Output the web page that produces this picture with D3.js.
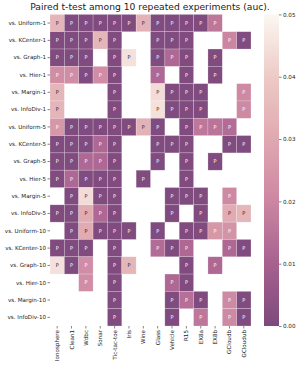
<!DOCTYPE html>
<html>
<head>
<meta charset="utf-8">
<script src="https://cdn.jsdelivr.net/npm/d3@7"></script>
<style>
  body { margin: 0; background: #fff; }
  text { font-family: "DejaVu Sans", sans-serif; }
</style>
</head>
<body>
<div id="chart-area"></div>
<script>
// heatmap of p-values, null = not significant (blank)

let rows = ["vs. Uniform-1", "vs. KCenter-1", "vs. Graph-1", "vs. Hier-1", "vs. Margin-1", "vs. InfoDiv-1",
            "vs. Uniform-5", "vs. KCenter-5", "vs. Graph-5", "vs. Hier-5", "vs. Margin-5", "vs. InfoDiv-5",
            "vs. Uniform-10", "vs. KCenter-10", "vs. Graph-10", "vs. Hier-10", "vs. Margin-10", "vs. InfoDiv-10"]

let cols = ["Ionosphere", "Clean1", "Wdbc", "Sonar", "Tic-tac-toe", "Iris", "Wine", "Glass",
            "Vehicle", "R15", "EX8a", "EX8b", "GCloudb", "GCloudub"]

let pvals = [
  [0.034, 0.001, 0.001, 0.001, 0.001, 0.001, 0.033, 0.001, 0.001, 0.001, 0.001, 0.016, null, null],
  [0.001, 0.001, 0.001, 0.034, 0.001, null, null, 0.001, 0.001, 0.001, null, null, 0.020, 0.001],
  [0.001, 0.001, 0.001, null, 0.001, 0.045, null, 0.001, 0.012, 0.001, null, 0.001, null, null],
  [0.022, 0.022, 0.001, 0.022, 0.001, null, null, 0.012, null, 0.001, null, 0.001, null, null],
  [0.034, null, null, null, 0.001, null, null, 0.044, 0.001, 0.001, 0.001, null, null, 0.021],
  [0.034, null, null, null, 0.001, null, null, 0.045, 0.001, 0.001, 0.001, null, null, 0.021],
  [0.025, 0.001, 0.001, 0.001, 0.001, 0.001, 0.033, 0.001, null, 0.001, 0.016, 0.015, 0.013, null],
  [0.001, 0.001, 0.001, 0.012, 0.001, null, null, 0.001, 0.001, 0.001, null, null, 0.001, 0.001],
  [0.001, 0.001, 0.012, 0.012, 0.001, null, null, 0.001, null, 0.001, null, 0.001, null, null],
  [0.001, 0.012, 0.001, 0.001, 0.001, null, 0.001, null, null, 0.001, null, null, null, null],
  [null, 0.001, 0.044, 0.001, 0.001, null, null, null, 0.001, 0.001, 0.001, null, 0.021, null],
  [0.001, 0.001, 0.031, 0.012, 0.001, null, null, null, 0.001, null, 0.001, null, 0.031, 0.034],
  [null, 0.001, 0.031, 0.001, 0.001, 0.001, null, 0.001, null, 0.001, 0.001, 0.025, 0.024, null],
  [0.001, 0.001, 0.001, null, 0.001, null, null, 0.013, 0.001, 0.012, null, null, 0.012, 0.001],
  [0.045, 0.001, 0.022, null, 0.001, 0.034, null, null, null, 0.001, null, 0.012, null, null],
  [null, null, 0.022, null, 0.001, null, null, null, 0.012, 0.001, null, null, null, null],
  [null, null, null, null, 0.001, null, null, null, 0.001, 0.014, 0.001, null, 0.021, 0.001],
  [null, null, null, null, 0.001, null, null, null, 0.001, null, 0.016, null, 0.021, 0.001]
]

let cbarTicks = [0, 0.01, 0.02, 0.03, 0.04, 0.05]
let title = "Paired t-test among 10 repeated experiments (auc)."

let svg = d3.select("#chart-area").append("svg")
            .attr("width", 300)
            .attr("height", 366)

let mLeft = 50, mRight = 251, mTop = 14.4, mBottom = 326

let x = d3.scaleBand().domain(cols).range([mLeft, mRight])
let y = d3.scaleBand().domain(rows).range([mTop, mBottom])

let color = d3.scaleLinear()
              .domain([0, 0.01, 0.02, 0.03, 0.04, 0.05])
              .range(["#7c497c", "#a7618f", "#cc86a2", "#dfa8b0", "#edcac6", "#fcf7f2"])
              .clamp(true)

function textColor(v) {
  let c = d3.rgb(color(v))
  let lin = ch => { ch /= 255; return ch <= 0.03928 ? ch / 12.92 : Math.pow((ch + 0.055) / 1.055, 2.4) }
  let lum = 0.2126 * lin(c.r) + 0.7152 * lin(c.g) + 0.0722 * lin(c.b)
  return lum > 0.408 ? "#262626" : "#ffffff"
}

let cells = []
pvals.forEach((row, i) => {
  row.forEach((v, j) => {
    if (v !== null) cells.push({ r: rows[i], c: cols[j], v: v })
  })
})

svg.selectAll("rect.cell")
   .data(cells)
   .enter()
   .append("rect")
   .attr("class", "cell")
   .attr("x", d => x(d.c))
   .attr("y", d => y(d.r))
   .attr("width", x.bandwidth())
   .attr("height", y.bandwidth())
   .attr("fill", d => color(d.v))
   .attr("stroke", "#ffffff")
   .attr("stroke-opacity", 0.35)
   .attr("stroke-width", 0.6)

svg.selectAll("text.annot")
   .data(cells)
   .enter()
   .append("text")
   .attr("class", "annot")
   .attr("x", d => x(d.c) + x.bandwidth() / 2)
   .attr("y", d => y(d.r) + y.bandwidth() / 2)
   .attr("dy", "0.35em")
   .attr("text-anchor", "middle")
   .attr("font-size", 5)
   .attr("fill", d => textColor(d.v))
   .text("P")

// axes
let yAxis = svg.append("g")
               .attr("transform", `translate(${mLeft},0)`)
               .call(d3.axisLeft(y).tickSize(2.5).tickPadding(1.5))
yAxis.select(".domain").remove()
yAxis.selectAll("line").attr("stroke", "#333").attr("stroke-width", 0.6)
yAxis.selectAll("text").attr("font-size", 5.6).attr("fill", "#222")
     .style("font-family", "DejaVu Sans, sans-serif")

let xAxis = svg.append("g")
               .attr("transform", `translate(0,${mBottom})`)
               .call(d3.axisBottom(x).tickSize(2.5).tickPadding(1.5))
xAxis.select(".domain").remove()
xAxis.selectAll("line").attr("stroke", "#333").attr("stroke-width", 0.6)
xAxis.selectAll("text")
     .attr("font-size", 5.6).attr("fill", "#222")
     .style("font-family", "DejaVu Sans, sans-serif")
     .attr("transform", "rotate(-90)")
     .attr("text-anchor", "end")
     .attr("x", -4)
     .attr("y", 0)
     .attr("dy", "0.35em")

// colorbar
let cbX = 264, cbW = 15
let cy = d3.scaleLinear().domain([0, 0.05]).range([mBottom, mTop])

let defs = svg.append("defs")
let grad = defs.append("linearGradient")
               .attr("id", "cbar")
               .attr("x1", 0).attr("y1", 1).attr("x2", 0).attr("y2", 0)
grad.selectAll("stop")
    .data(d3.range(0, 1.0001, 0.05))
    .enter()
    .append("stop")
    .attr("offset", d => d)
    .attr("stop-color", d => color(d * 0.05))

svg.append("rect")
   .attr("x", cbX)
   .attr("y", mTop)
   .attr("width", cbW)
   .attr("height", mBottom - mTop)
   .attr("fill", "url(#cbar)")

let cAxis = svg.append("g")
               .attr("transform", `translate(${cbX + cbW},0)`)
               .call(d3.axisRight(cy).tickValues(cbarTicks).tickFormat(d3.format(".2f")).tickSize(2.5).tickPadding(1.5))
cAxis.select(".domain").remove()
cAxis.selectAll("line").attr("stroke", "#333").attr("stroke-width", 0.6)
cAxis.selectAll("text").attr("font-size", 5.6).attr("fill", "#222")
     .style("font-family", "DejaVu Sans, sans-serif")

svg.append("text")
   .attr("x", 150)
   .attr("y", 9.5)
   .attr("text-anchor", "middle")
   .attr("font-size", 9.2)
   .attr("fill", "#222")
   .text(title)
</script>
</body>
</html>
